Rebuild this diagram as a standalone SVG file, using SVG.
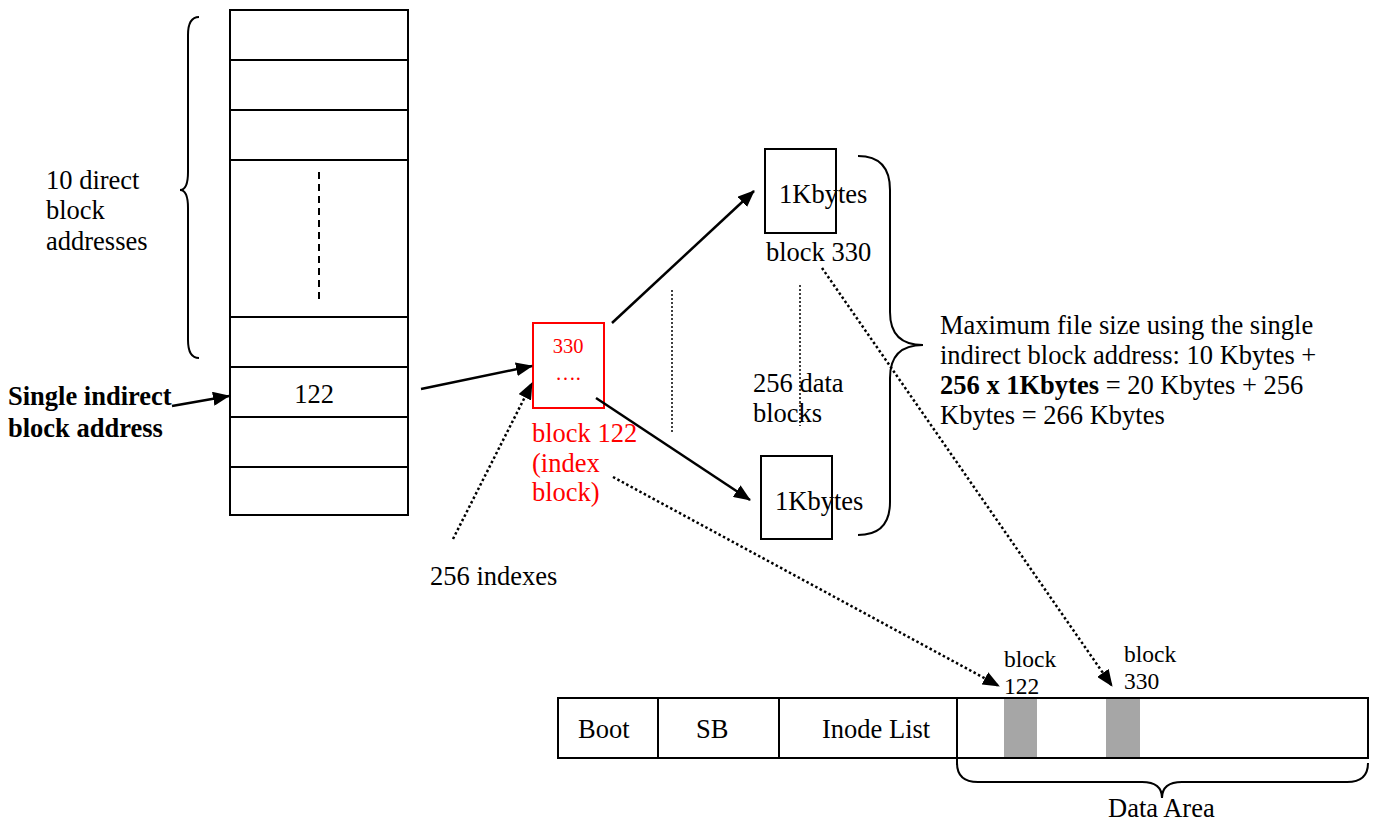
<svg xmlns="http://www.w3.org/2000/svg" width="1382" height="823" viewBox="0 0 1382 823">
<style>
text{font-family:"Liberation Serif","Times New Roman",serif;font-size:26.5px;fill:#000}
.red{fill:#ff0000}
.b{font-weight:bold}
.sm{font-size:23.5px}
.box{fill:#fff;stroke:#000;stroke-width:2}
.ln{stroke:#000;stroke-width:2;fill:none}
.arr{stroke:#000;stroke-width:2.5;fill:none}
.dot{stroke:#000;stroke-width:2.5;fill:none;stroke-dasharray:2.5 2.5}
.brace{stroke:#000;stroke-width:2;fill:none}
</style>
<defs>
<marker id="ah" markerUnits="userSpaceOnUse" markerWidth="18" markerHeight="14" refX="16" refY="7" orient="auto">
<path d="M0,0 L17,7 L0,14 Z" fill="#000"/>
</marker>
</defs>
<g id="inode-table">
<rect class="box" x="230" y="10" width="178" height="505"/>
<line class="ln" x1="230" y1="60" x2="408" y2="60"/>
<line class="ln" x1="230" y1="110" x2="408" y2="110"/>
<line class="ln" x1="230" y1="160" x2="408" y2="160"/>
<line class="ln" x1="230" y1="317" x2="408" y2="317"/>
<line class="ln" x1="230" y1="367" x2="408" y2="367"/>
<line class="ln" x1="230" y1="417" x2="408" y2="417"/>
<line class="ln" x1="230" y1="467" x2="408" y2="467"/>
<line x1="319" y1="172" x2="319" y2="304" stroke="#000" stroke-width="2" stroke-dasharray="7 5"/>
<text x="314" y="403" text-anchor="middle">122</text>
</g>
<g id="direct-brace">
<path class="brace" d="M199,17 Q188,17 188,35 L188,172 Q188,190 180,190 Q188,190 188,208 L188,340 Q188,358 199,358"/>
<text x="46" y="189">10 direct</text>
<text x="46" y="219">block</text>
<text x="46" y="250">addresses</text>
</g>
<g id="single-indirect-label">
<text class="b" x="8" y="405">Single indirect</text>
<text class="b" x="8" y="437">block address</text>
</g>
<g id="index-block">
<rect x="533" y="323" width="71" height="85" fill="#fff" stroke="#ff0000" stroke-width="2"/>
<text class="red" x="568" y="353" text-anchor="middle" style="font-size:20.5px">330</text>
<text class="red" x="568" y="380" text-anchor="middle" style="font-size:20.5px">….</text>
<text class="red" x="532" y="442">block 122</text>
<text class="red" x="532" y="472">(index</text>
<text class="red" x="532" y="501">block)</text>
</g>
<g id="indexes-label">
<text x="430" y="585">256 indexes</text>
</g>
<g id="block-330">
<rect class="box" x="765" y="149" width="71" height="84"/>
<text x="779" y="203">1Kbytes</text>
<text x="766" y="261">block 330</text>
</g>
<g id="block-last">
<rect class="box" x="761" y="456" width="71" height="83"/>
<text x="775" y="510">1Kbytes</text>
</g>
<g id="data-blocks-label">
<line x1="672" y1="290" x2="672" y2="432" stroke="#000" stroke-width="1.5" stroke-dasharray="2 2"/>
<line x1="800" y1="285" x2="800" y2="426" stroke="#000" stroke-width="1.5" stroke-dasharray="2 2"/>
<text x="753" y="392">256 data</text>
<text x="753" y="422">blocks</text>
</g>
<g id="max-size">
<path class="brace" d="M858,156 Q890,156 890,190 L890,312 Q890,345 923,345 Q890,345 890,378 L890,502 Q890,535 858,535"/>
<text x="940" y="334">Maximum file size using the single</text>
<text x="940" y="364">indirect block address: 10 Kbytes +</text>
<text x="940" y="394"><tspan class="b">256 x 1Kbytes</tspan> = 20 Kbytes + 256</text>
<text x="940" y="424">Kbytes = 266 Kbytes</text>
</g>
<g id="disk">
<rect class="box" x="558" y="698" width="810" height="60"/>
<line class="ln" x1="658" y1="698" x2="658" y2="758"/>
<line class="ln" x1="779" y1="698" x2="779" y2="758"/>
<line class="ln" x1="957" y1="698" x2="957" y2="765"/>
<rect x="1004" y="699" width="33" height="58" fill="#a6a6a6"/>
<rect x="1106" y="699" width="34" height="58" fill="#a6a6a6"/>
<text x="578" y="738">Boot</text>
<text x="696" y="738">SB</text>
<text x="822" y="738">Inode List</text>
<text class="sm" x="1004" y="667">block</text>
<text class="sm" x="1004" y="694">122</text>
<text class="sm" x="1124" y="662">block</text>
<text class="sm" x="1124" y="689">330</text>
<path class="brace" d="M957,763 Q957,782 978,782 L1142,782 Q1162,782 1162,798 Q1162,782 1182,782 L1347,782 Q1368,782 1368,763"/>
<text x="1108" y="817">Data Area</text>
</g>
<g id="connectors">
<line class="arr" x1="172" y1="406" x2="229" y2="396" marker-end="url(#ah)"/>
<line class="arr" x1="421" y1="389" x2="532" y2="366" marker-end="url(#ah)"/>
<line class="dot" x1="453" y1="539" x2="532" y2="383" marker-end="url(#ah)"/>
<line class="arr" x1="612" y1="323" x2="754" y2="191" marker-end="url(#ah)"/>
<line class="arr" x1="596" y1="398" x2="750" y2="500" marker-end="url(#ah)"/>
<line class="dot" x1="613" y1="477" x2="999" y2="686" marker-end="url(#ah)"/>
<line class="dot" x1="822" y1="268" x2="1112" y2="686" marker-end="url(#ah)"/>
</g>
</svg>
